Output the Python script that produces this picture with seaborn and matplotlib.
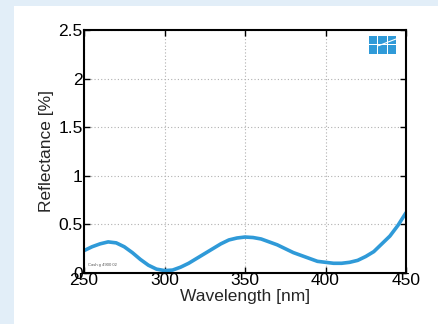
import matplotlib
matplotlib.use("Agg")
import matplotlib.pyplot as plt
import seaborn as sns
import pandas as pd
from matplotlib.patches import Rectangle

wavelength = [250, 255, 260, 265, 270, 275, 280, 285, 290, 295, 300, 305, 310, 315,
              320, 325, 330, 335, 340, 345, 350, 355, 360, 365, 370, 375, 380, 385,
              390, 395, 400, 405, 410, 415, 420, 425, 430, 435, 440, 445, 450]
reflectance = [0.23, 0.27, 0.30, 0.32, 0.31, 0.27, 0.21, 0.14, 0.08, 0.04, 0.025, 0.03,
               0.06, 0.10, 0.15, 0.20, 0.25, 0.30, 0.34, 0.36, 0.37, 0.365, 0.35, 0.32,
               0.29, 0.25, 0.21, 0.18, 0.15, 0.12, 0.11, 0.10, 0.10, 0.11, 0.13, 0.17,
               0.22, 0.30, 0.38, 0.49, 0.62]
xticks = [250, 300, 350, 400, 450]
yticks = [0, 0.5, 1, 1.5, 2, 2.5]
yticklabels = ["0", "0.5", "1", "1.5", "2", "2.5"]

df = pd.DataFrame({"Wavelength": wavelength, "Reflectance": reflectance})

sns.set_style("white")
plt.rcParams["font.family"] = ["Liberation Sans", "DejaVu Sans"]

fig = plt.figure(figsize=(4.38, 3.24), dpi=100)
fig.patch.set_facecolor("#e2eef8")
# white panel
fig.patches.append(Rectangle((14/438, 0), 1, 1 - 6/324, transform=fig.transFigure,
                             facecolor="white", edgecolor="none", zorder=-10))

ax = fig.add_axes([84/438, 1 - 273/324, (406-84)/438, (273-30)/324])
ax.set_facecolor("white")
sns.lineplot(data=df, x="Wavelength", y="Reflectance", ax=ax, color="#2f9ad8",
             linewidth=2.6)
ax.set_xlim(250, 450)
ax.set_ylim(0, 2.5)
ax.set_xticks(xticks)
ax.set_yticks(yticks)
ax.set_yticklabels(yticklabels)
ax.grid(True, linestyle=(0, (1, 2)), color="#b0b0b0", linewidth=0.8)
ax.tick_params(direction="in", length=4, width=1, labelsize=12.5, pad=1,
               top=True, right=True, bottom=True, left=True, colors="black")
ax.tick_params(axis="x", pad=0)
for s in ax.spines.values():
    s.set_linewidth(1.5)
    s.set_color("black")
ax.set_xlabel("Wavelength [nm]", fontsize=12.5, labelpad=0.5)
ax.set_ylabel("Reflectance [%]", fontsize=12.5, labelpad=3)

# logo
lx, ltop = 0.885, 0.975
w, h, gx, gy = 0.026, 0.034, 0.003, 0.004
for i in range(3):
    for j in range(2):
        ax.add_patch(Rectangle((lx + i * (w + gx), ltop - (j + 1) * h - j * gy), w, h,
                               transform=ax.transAxes, facecolor="#2f9ad8",
                               edgecolor="none", clip_on=False))
ax.plot([lx + w + gx, lx + 3 * w + 2 * gx], [ltop - h - gy / 2 - 0.004, ltop - 0.012],
        transform=ax.transAxes, color="white", linewidth=0.8)
ax.text(0.012, 0.028, "Cash g 4900 02", transform=ax.transAxes, fontsize=3,
        color="#555555")

fig.savefig("out.png", dpi=100, facecolor=fig.get_facecolor())
